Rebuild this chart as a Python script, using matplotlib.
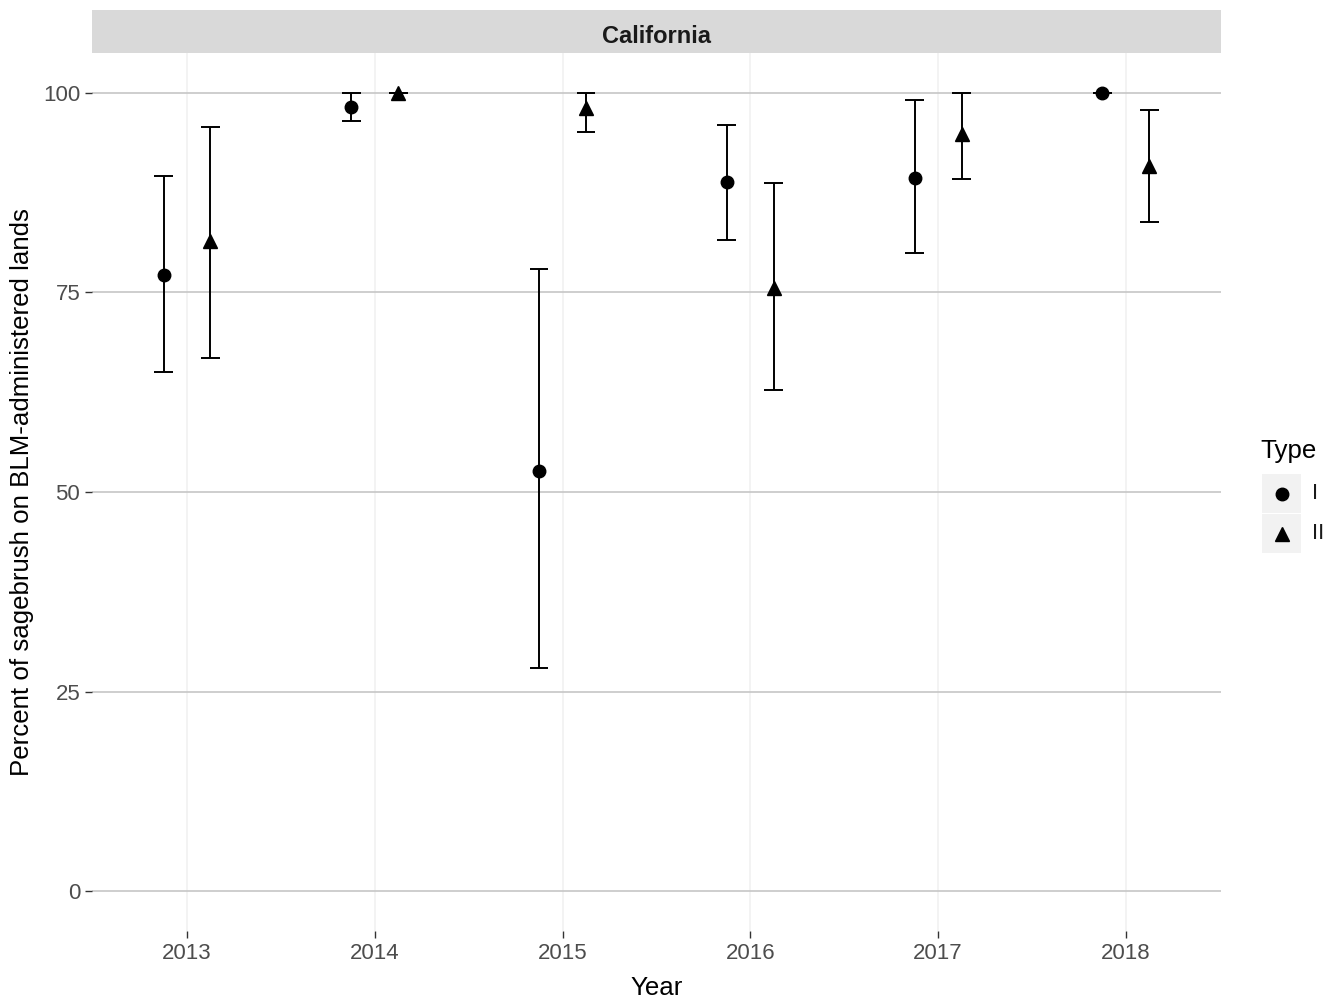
import matplotlib
matplotlib.use("Agg")
import matplotlib.pyplot as plt
from matplotlib.patches import Rectangle
import numpy as np

plt.rcParams["font.family"] = ["Liberation Sans", "DejaVu Sans"]

# Survey results by year and sagebrush type (percent, with interval bounds)
years = [2013, 2014, 2015, 2016, 2017, 2018]
type_i_mean = [77.2, 98.2, 52.6, 88.9, 89.4, 100.0]
type_i_lower = [65.0, 96.5, 28.0, 81.6, 79.9, 100.0]
type_i_upper = [89.6, 100.0, 78.0, 96.0, 99.1, 100.0]
type_ii_mean = [81.5, 100.0, 98.1, 75.6, 94.9, 90.9]
type_ii_lower = [66.8, 100.0, 95.1, 62.8, 89.2, 83.8]
type_ii_upper = [95.7, 100.0, 100.0, 88.7, 100.0, 97.9]
y_ticks = [0, 25, 50, 75, 100]
type_labels = ["I", "II"]
panel_title = "California"

W, H = 1337, 998
fig = plt.figure(figsize=(W / 100, H / 100), dpi=100)
fig.patch.set_facecolor("white")

# main panel
pl, pr, pt, pb = 92, 1221, 53, 931
ax = fig.add_axes([pl / W, 1 - pb / H, (pr - pl) / W, (pb - pt) / H])
ax.set_xlim(2012.494, 2018.507)
ax.set_ylim(-5, 105)
for s in ax.spines.values():
    s.set_visible(False)
ax.set_axisbelow(True)
ax.set_xticks(years)
ax.set_xticklabels([str(y) for y in years])
ax.set_yticks(y_ticks)
ax.yaxis.grid(True, color="#C8C8C8", lw=1.25)
ax.xaxis.grid(True, color="#F0F0F0", lw=1.1)
ax.tick_params(length=5, width=1.0, color="#333333", labelsize=16,
               labelcolor="#4D4D4D", pad=3.5)

dodge = 0.125
cap = 0.05
series = [
    (type_i_mean, type_i_lower, type_i_upper, -dodge, "o", 9),
    (type_ii_mean, type_ii_lower, type_ii_upper, dodge, "^", 10),
]
for mean, lo, hi, off, mk, ms in series:
    x = np.array(years, dtype=float) + off
    ax.vlines(x, lo, hi, color="black", lw=1.4, zorder=2)
    ax.hlines(lo, x - cap, x + cap, color="black", lw=1.4, zorder=2)
    ax.hlines(hi, x - cap, x + cap, color="black", lw=1.4, zorder=2)
    ax.plot(x, mean, mk, ms=ms, color="black", ls="none", zorder=3)

# facet strip
sax = fig.add_axes([pl / W, 1 - pt / H, (pr - pl) / W, (pt - 10) / H])
sax.set_facecolor("#D9D9D9")
sax.set_xticks([])
sax.set_yticks([])
for s in sax.spines.values():
    s.set_visible(False)
fig.text((pl + pr) / 2 / W, 1 - 43 / H, panel_title, ha="center", va="baseline",
         fontsize=17, fontweight="bold", color="#1A1A1A")

# axis titles
fig.text((pl + pr) / 2 / W, 1 - 995 / H, "Year", ha="center", va="baseline",
         fontsize=18.6, color="black")
fig.text(22.4 / W, 1 - (pt + pb) / 2 / H,
         "Percent of sagebrush on BLM-administered lands",
         rotation=90, ha="center", va="center", fontsize=18.6, color="black")

# legend
lax = fig.add_axes([0, 0, 1, 1], zorder=5)
lax.set_xlim(0, W)
lax.set_ylim(H, 0)
lax.axis("off")
lax.patch.set_alpha(0)
lax.text(1260, 458, "Type", ha="left", va="baseline", fontsize=18.6, color="black")
key_y = [493.5, 533.5]
for (mk, ms), ky, lab in zip([("o", 9), ("^", 10)], key_y, type_labels):
    lax.add_patch(Rectangle((1262, ky - 19.5), 39, 39, fc="#F2F2F2", ec="none"))
    lax.plot([1281.5], [ky], mk, ms=ms, color="black")
    lax.text(1312, ky, lab, ha="left", va="center", fontsize=16, color="#1A1A1A")

fig.savefig("out.png", dpi=100)
